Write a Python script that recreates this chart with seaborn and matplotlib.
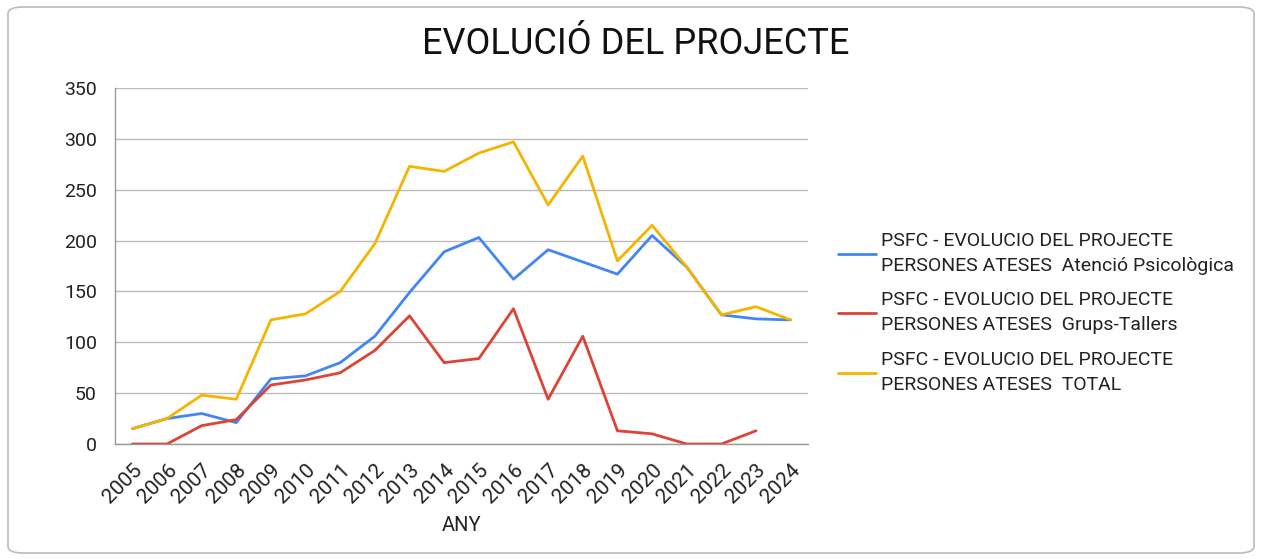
import numpy as np
import pandas as pd
import matplotlib.pyplot as plt
import seaborn as sns
from matplotlib.patches import FancyBboxPatch

# --- data ---
years = list(range(2005, 2025))
atencio = [15, 25, 30, 21, 64, 67, 80, 106, 149, 189,
           203, 162, 191, 179, 167, 205, 174, 127, 123, 122]
grups = [0, 0, 18, 24, 58, 63, 70, 92, 126, 80,
         84, 133, 44, 106, 13, 10, 0, 0, 13, np.nan]
total = [15, 25, 48, 44, 122, 128, 150, 197, 273, 268,
         286, 297, 235, 283, 180, 215, 174, 127, 135, 122]
series_names = [
    "PSFC - EVOLUCIO DEL PROJECTE\nPERSONES ATESES  Atenció Psicològica",
    "PSFC - EVOLUCIO DEL PROJECTE\nPERSONES ATESES  Grups-Tallers",
    "PSFC - EVOLUCIO DEL PROJECTE\nPERSONES ATESES  TOTAL",
]
colors = ["#4285F4", "#DB4437", "#F4B400"]

df = pd.DataFrame({"ANY": years * 3,
                   "valor": atencio + grups + total,
                   "serie": [s for s in series_names for _ in years]})

sns.set_style("white")
plt.rcParams['font.family'] = ['Roboto', 'DejaVu Sans']

fig = plt.figure(figsize=(12.62, 5.59), dpi=100)
ax = fig.add_axes([115 / 1262, 1 - 444 / 559, (808 - 115) / 1262, (444 - 88) / 559])

sns.lineplot(data=df, x="ANY", y="valor", hue="serie", palette=colors,
             linewidth=2, ax=ax, legend=True)

ax.set_xlim(2004.5, 2024.5)
ax.set_ylim(0, 350)
ax.set_yticks(range(0, 351, 50))
ax.set_xticks(years)
ax.set_xticklabels([str(y) for y in years], rotation=45, ha='right',
                   rotation_mode='anchor', fontsize=15, color='#222222')
ax.tick_params(axis='y', labelsize=14, labelcolor='#222222', length=0, pad=13)
ax.tick_params(axis='x', length=0, pad=12)
ax.grid(axis='y', color='#bbbbbb', linewidth=1)
ax.set_axisbelow(True)
for side in ['top', 'right']:
    ax.spines[side].set_visible(False)
for side in ['left', 'bottom']:
    ax.spines[side].set_color('#999999')
    ax.spines[side].set_linewidth(1)
ax.set_ylabel("")
ax.set_xlabel("ANY", fontsize=14.5, color='#222222', labelpad=6)

leg = ax.legend(loc='center left', bbox_to_anchor=(820 / 1262, 1 - 313 / 559),
                bbox_transform=fig.transFigure, frameon=False, fontsize=14,
                handlelength=2.0, handletextpad=0.25, labelspacing=0.85)
for t in leg.get_texts():
    t.set_color('#222222')
    t.set_linespacing(1.5)

fig.text(636 / 1262, 1 - 44 / 559, "EVOLUCIÓ DEL PROJECTE", ha='center', va='center',
         fontsize=26, color='#111111')

border = FancyBboxPatch((8 / 1262, 6 / 559), 1246 / 1262, 546 / 559,
                        boxstyle="round,pad=0,rounding_size=0.012",
                        transform=fig.transFigure, fill=False,
                        edgecolor='#bbbbbb', linewidth=1.2)
fig.patches.append(border)

fig.savefig("out.png", dpi=100)
